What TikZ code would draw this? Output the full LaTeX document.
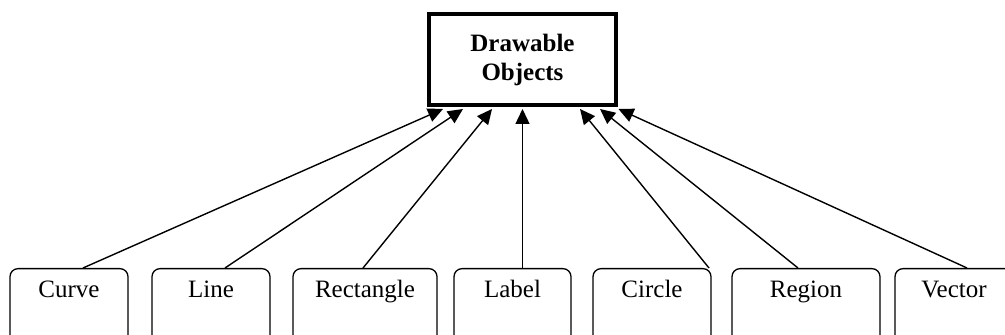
\documentclass[tikz,border=0pt]{standalone}
\usepackage{fontspec}
\setmainfont{Liberation Serif}
\usepackage{tikz}
\usetikzlibrary{arrows.meta}

\tikzset{
	classbox/.style={draw, rounded corners=4pt, line width=0.65pt, anchor=north,
		font=\fontsize{12.5}{15}\selectfont, text height=10.5pt, text depth=26pt,
		inner sep=4pt},
	basebox/.style={draw, line width=2pt, align=center, font=\fontsize{12.5}{14.5}\selectfont\bfseries,
		minimum width=93.5pt, minimum height=45.5pt},
	inherit/.style={line width=0.7pt, -{Triangle[length=7.5pt,width=7pt]}}
}

\begin{document}
\begin{tikzpicture}[x=0.5pt,y=-0.5pt]
	\newcommand{\boxTop}{268}

	\clip (0,0) rectangle (1005,335);

	% base class
	\node[basebox] (drawable) at (522.5,59.5) {Drawable\\Objects};

	% derived classes
	\node[classbox, minimum width=59pt] (curve) at (69,\boxTop) {Curve};
	\node[classbox, minimum width=59pt] (line) at (211,\boxTop) {Line};
	\node[classbox, minimum width=72pt] (rect) at (365,\boxTop) {Rectangle};
	\node[classbox, minimum width=58.5pt] (label) at (512.5,\boxTop) {Label};
	\node[classbox, minimum width=59pt] (circle) at (652,\boxTop) {Circle};
	\node[classbox, minimum width=74pt] (region) at (806,\boxTop) {Region};
	\node[classbox, minimum width=59pt] (vector) at (954,\boxTop) {Vector};

	% inheritance arrows
	\draw[inherit] ([xshift=7pt]curve.north) -- ([xshift=-39.75pt,yshift=-1pt]drawable.south);
	\draw[inherit] ([xshift=7pt]line.north) -- ([xshift=-29.75pt,yshift=-1pt]drawable.south);
	\draw[inherit] ([xshift=-1pt]rect.north) -- ([xshift=-15.25pt,yshift=-1pt]drawable.south);
	\draw[inherit] ([xshift=5pt]label.north) -- ([xshift=0pt,yshift=-1pt]drawable.south);
	\draw[inherit] ([xshift=28.5pt]circle.north) -- ([xshift=28.75pt,yshift=-1pt]drawable.south);
	\draw[inherit] ([xshift=-4pt]region.north) -- ([xshift=38.75pt,yshift=-1pt]drawable.south);
	\draw[inherit] ([xshift=6.5pt]vector.north) -- ([xshift=48pt,yshift=-1pt]drawable.south);
\end{tikzpicture}
\end{document}
